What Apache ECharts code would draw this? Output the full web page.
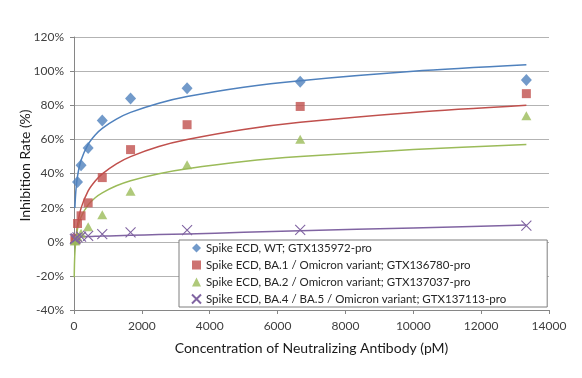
<!DOCTYPE html>
<html>
<head>
<meta charset="utf-8">
<script src="https://cdn.jsdelivr.net/npm/echarts@6/dist/echarts.min.js"></script>
<style>
html,body{margin:0;padding:0;background:#fff;}
#chart{width:582px;height:378px;}
</style>
</head>
<body>
<div id="chart"></div>
<script>
// Concentrations (pM) and inhibition rates (%)
const seriesNames = [
  'Spike ECD, WT; GTX135972-pro',
  'Spike ECD, BA.1 / Omicron variant; GTX136780-pro',
  'Spike ECD, BA.2 / Omicron variant; GTX137037-pro',
  'Spike ECD, BA.4 / BA.5 / Omicron variant; GTX137113-pro'
];
const wtX   = [104, 208, 417, 833, 1667, 3333, 6667, 13333];
const wtY   = [35, 44.8, 55, 71, 84, 90, 93.8, 94.8];
const ba1X  = [26, 52, 104, 208, 417, 833, 1667, 3333, 6667, 13333];
const ba1Y  = [1, 2, 10.7, 15.2, 22.8, 37.6, 54, 68.6, 79.3, 86.8];
const ba2X  = [26, 52, 104, 208, 417, 833, 1667, 3333, 6667, 13333];
const ba2Y  = [0.5, 1, 3, 5, 8.8, 15.8, 29.6, 45.2, 60.1, 73.8];
const ba45X = [26, 52, 104, 208, 417, 833, 1667, 3333, 6667, 13333];
const ba45Y = [1.5, 2, 2.5, 3, 3.5, 4.5, 5.5, 6.8, 7.0, 9.5];

// Trendlines (value at each concentration; null = not drawn)
const trendX    = [6.5, 13, 26, 52, 104, 208, 417, 625, 833, 1250, 1667, 2500, 3333, 5000, 6667, 10000, 13333];
const wtTrend   = [null, null, 19.8, 29.1, 38.5, 47.8, 57.1, 62.6, 66.5, 71.9, 75.8, 81.2, 85.1, 90.6, 94.4, 99.9, 103.7];
const ba1Trend  = [null, null, null, -0.4, 9.6, 19.7, 29.8, 35.6, 39.8, 45.7, 49.9, 55.8, 59.9, 65.8, 70.0, 75.8, 80.0];
const ba2Trend  = [-20.8, -13.7, -6.7, 0.4, 7.5, 14.5, 21.6, 25.8, 28.7, 32.8, 35.8, 39.9, 42.8, 47.0, 49.9, 54.0, 57.0];
const ba45Trend = [2.9, 2.9, 2.9, 2.9, 3.0, 3.0, 3.1, 3.2, 3.3, 3.55, 3.8, 4.2, 4.6, 5.5, 6.4, 8.1, 9.8];

const xTicks = {min: 0, max: 14000, interval: 2000};
const yTicks = {min: -40, max: 120, interval: 20};

const colors = ['#4F81BD', '#C0504D', '#9BBB59', '#8064A2'];
const FONT = 'Lato';

function pairs(xs, ys) { return xs.map((x, i) => [x, ys[i]]); }

const chart = echarts.init(document.getElementById('chart'), null, {renderer: 'canvas'});

const xMark = 'path://M0,0L10,10M10,0L0,10';

const scatterDefs = [
  {x: wtX, y: wtY, symbol: 'diamond', size: [11, 12]},
  {x: ba1X, y: ba1Y, symbol: 'rect', size: 9},
  {x: ba2X, y: ba2Y, symbol: 'triangle', size: [10, 9]},
  {x: ba45X, y: ba45Y, symbol: xMark, size: 10}
];
const trends = [wtTrend, ba1Trend, ba2Trend, ba45Trend];

const series = [];
trends.forEach((t, i) => {
  series.push({
    type: 'line',
    name: 'trend' + i,
    data: pairs(trendX, t),
    showSymbol: false,
    smooth: 0.3,
    connectNulls: false,
    silent: true,
    lineStyle: {color: colors[i], width: 1.5},
    z: 2
  });
});
scatterDefs.forEach((d, i) => {
  const isX = i === 3;
  series.push({
    type: 'scatter',
    name: seriesNames[i],
    data: pairs(d.x, d.y),
    symbol: d.symbol,
    symbolSize: d.size,
    itemStyle: isX ? {color: colors[i], borderColor: colors[i], borderWidth: 1.1, opacity: 1}
                   : {color: colors[i]},
    z: 3
  });
});

chart.setOption({
  animation: false,
  backgroundColor: '#ffffff',
  grid: {left: 74, right: 33, top: 37, bottom: 68, containLabel: false},
  legend: {
    data: seriesNames,
    orient: 'vertical',
    left: 179,
    top: 240,
    backgroundColor: '#ffffff',
    borderColor: '#7f7f7f',
    borderWidth: 1,
    borderRadius: 0,
    padding: [2, 41, 2, 12],
    itemWidth: 9,
    itemHeight: 9,
    itemGap: 5,
    textStyle: {fontFamily: FONT, fontSize: 11.5, lineHeight: 12, color: '#262626'}
  },
  xAxis: {
    type: 'value',
    min: xTicks.min, max: xTicks.max, interval: xTicks.interval,
    name: 'Concentration of Neutralizing Antibody (pM)',
    nameLocation: 'middle',
    nameGap: 31,
    nameMoveOverlap: false,
    nameTextStyle: {fontFamily: FONT, fontSize: 14, color: '#1a1a1a'},
    axisLine: {onZero: false, lineStyle: {color: '#868686', width: 1}},
    axisTick: {show: true, inside: false, length: 4, lineStyle: {color: '#868686'}},
    axisLabel: {fontFamily: FONT, fontSize: 12, color: '#404040', margin: 10, formatter: v => String(v)},
    splitLine: {show: false}
  },
  yAxis: {
    type: 'value',
    min: yTicks.min, max: yTicks.max, interval: yTicks.interval,
    name: 'Inhibition Rate (%)',
    nameLocation: 'middle',
    nameGap: 42,
    nameMoveOverlap: false,
    nameTextStyle: {fontFamily: FONT, fontSize: 14, color: '#1a1a1a', padding: [0, 0, 0, 16]},
    axisLine: {show: true, lineStyle: {color: '#868686', width: 1}},
    axisTick: {show: true, inside: false, length: 4, lineStyle: {color: '#868686'}},
    axisLabel: {fontFamily: FONT, fontSize: 12, color: '#404040', margin: 10, formatter: '{value}%'},
    splitLine: {show: true, lineStyle: {color: '#b3b3b3', width: 1}}
  },
  series: series
});
</script>
</body>
</html>
